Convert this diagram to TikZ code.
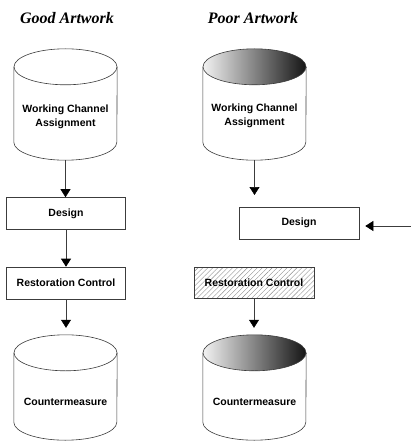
\documentclass[tikz,border=0pt]{standalone}
\usepackage{fontspec}
\setmainfont{Liberation Sans}
\newfontfamily\headfont{Liberation Serif}
\usetikzlibrary{arrows.meta,patterns.meta}
\definecolor{d_line}{HTML}{3C3C3C}
\definecolor{d_hatch}{HTML}{8C8C8C}
\definecolor{l_shade}{HTML}{F2F2F2}
\definecolor{d_shade}{HTML}{151515}

\tikzset{
  edge/.style={draw=d_line, line width=.6pt},
  flow/.style={edge, -{Triangle[length=8pt,width=10pt,color=black]}},
  box/.style={edge, minimum width=119pt, minimum height=32pt, inner sep=0pt},
  hatchbox/.style={box, pattern={Lines[angle=45,distance=3.5pt,line width=.4pt]}, pattern color=d_hatch},
  cylbody/.style={minimum width=103pt, minimum height=111pt, inner sep=0pt},
  txt/.style={font=\bfseries\fontsize{10.5}{14}\selectfont, align=center},
  head/.style={font=\headfont\bfseries\itshape\fontsize{16}{18}\selectfont}
}

\begin{document}
\begin{tikzpicture}[x=1pt,y=1pt]
\useasboundingbox (0,0) rectangle (411,-441);

\node[head] (good) at (67,-18) {Good Artwork};
\node[head] (poor) at (253,-18) {Poor Artwork};

% cylinders (bodies only, outlines drawn below)
\node[cylbody] (wcaL) at (65.5,-104.5) {};
\node[cylbody] (wcaR) at (254.5,-104.5) {};
\node[cylbody, minimum height=105pt] (cmL) at (65.5,-387.5) {};
\node[cylbody, minimum height=105pt] (cmR) at (254.5,-387.5) {};

\foreach \n in {wcaL,wcaR,cmL,cmR}
\draw[edge] ([yshift=-18pt]\n.north west) -- ([yshift=18pt]\n.south west)
  arc[start angle=180, end angle=360, x radius=51.5, y radius=18]
  -- ([yshift=-18pt]\n.north east);

\foreach \n in {wcaL,cmL}
\draw[edge] ([yshift=-18pt]\n.north) ellipse[x radius=51.5, y radius=18];

\foreach \n in {wcaR,cmR}
\draw[edge, left color=l_shade, right color=d_shade] ([yshift=-18pt]\n.north) ellipse[x radius=51.5, y radius=18];

\node[txt] (wcaLtxt) at (65.5,-117) {Working Channel\\Assignment};
\node[txt] (wcaRtxt) at (254.5,-116) {Working Channel\\Assignment};
\node[txt] (cmLtxt) at (65.5,-402) {Countermeasure};
\node[txt] (cmRtxt) at (254.5,-402) {Countermeasure};

% boxes
\node[box, txt] (desL) at (66,-213.5) {Design};
\node[box, txt] (resL) at (66,-283) {Restoration Control};
\node[box, txt, minimum width=120pt] (desR) at (299,-223) {Design};
\node[hatchbox, txt, minimum width=120pt, minimum height=31pt] (resR) at (254,-282.5) {Restoration Control};

\coordinate (gapR) at (254.5,-195);
\coordinate (inR) at (411,-226);

% good side
\draw[flow] (wcaL.south) -- (wcaL.south |- desL.north);
\draw[flow] (desL.south) -- (resL.north);
\draw[flow, shorten >=7pt] (resL.south) -- (resL.south |- cmL.north);

% poor side
\draw[flow] (wcaR.south) -- (gapR);
\draw[flow, shorten >=6pt] (inR) -- (inR -| desR.east);
\draw[flow, shorten >=7pt] (resR.south) -- (resR.south |- cmR.north);

\end{tikzpicture}
\end{document}
